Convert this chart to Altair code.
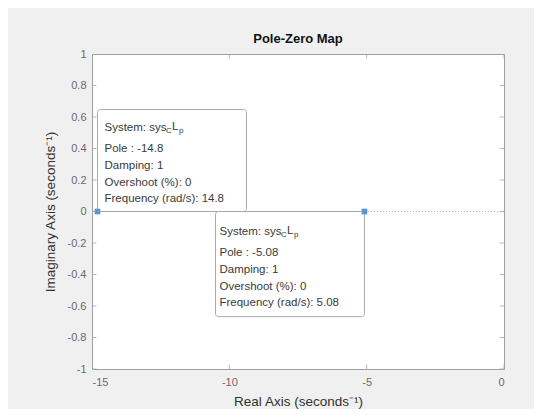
import altair as alt
import pandas as pd

# ---- data ----
pole_re = [-14.8, -5.08]
pole_im = [0.0, 0.0]
pole_label = ["-14.8", "-5.08"]
pole_damping = ["1", "1"]
pole_overshoot = ["0", "0"]
pole_freq = ["14.8", "5.08"]
x_ticks = [-15, -10, -5, 0]
y_ticks = [-1, -0.8, -0.6, -0.4, -0.2, 0, 0.2, 0.4, 0.6, 0.8, 1]

# ---- layout ----
W, H = 412, 315
X_DOM = [-15, 0]
Y_DOM = [-1, 1]
PX_X = W / (X_DOM[1] - X_DOM[0])
PX_Y = H / (Y_DOM[1] - Y_DOM[0])
BOX_W, BOX_H = 149, 102
FONT = "Liberation Sans"
TIP_FS = 11.5
TIP_COLOR = "#3a3a3a"

xs = alt.Scale(domain=X_DOM, nice=False, zero=False)
ys = alt.Scale(domain=Y_DOM, nice=False, zero=False)

xaxis = alt.Axis(values=x_ticks, ticks=False, domain=False, grid=False,
                 labelExpr="'' + datum.value", labelFontSize=11, labelColor="#6a6a6a",
                 labelPadding=7, labelFont=FONT,
                 title="Real Axis (seconds⁻¹)", titleFont=FONT, titleFontSize=13.5,
                 titleFontWeight="normal", titleColor="#303030", titlePadding=7)
yaxis = alt.Axis(values=y_ticks, ticks=False, domain=False, grid=False,
                 labelExpr="'' + datum.value", labelFontSize=11, labelColor="#6a6a6a",
                 labelPadding=6, labelFont=FONT,
                 title="Imaginary Axis (seconds⁻¹)", titleFont=FONT, titleFontSize=13.5,
                 titleFontWeight="normal", titleColor="#303030", titlePadding=10)


def X(f):
    return alt.X(f, type="quantitative", scale=xs, axis=xaxis)


def Y(f):
    return alt.Y(f, type="quantitative", scale=ys, axis=yaxis)


poles = pd.DataFrame({"re": pole_re, "im": pole_im})

# zero reference line
zero = alt.Chart(pd.DataFrame({"y": [0.0]})).mark_rule(
    color="#b8b8b8", strokeDash=[1, 2], strokeWidth=1
).encode(y=Y("y"))

# inward tick marks on all four sides
tick_rows = []
for v in x_ticks:
    tick_rows.append({"x": v, "y": Y_DOM[0]})
    tick_rows.append({"x": v, "y": Y_DOM[1]})
xt = alt.Chart(pd.DataFrame(tick_rows)).mark_tick(
    orient="vertical", size=9, thickness=1, color="#9a9a9a", clip=True
).encode(x=X("x"), y=Y("y"))
tick_rows = []
for v in y_ticks:
    tick_rows.append({"x": X_DOM[0], "y": v})
    tick_rows.append({"x": X_DOM[1], "y": v})
yt = alt.Chart(pd.DataFrame(tick_rows)).mark_tick(
    orient="horizontal", size=9, thickness=1, color="#9a9a9a", clip=True
).encode(x=X("x"), y=Y("y"))

# datatip boxes: first above-right of the pole, second below-left
bw = BOX_W / PX_X
bh = BOX_H / PX_Y
boxes = pd.DataFrame({
    "x1": [pole_re[0], pole_re[1] - bw],
    "x2": [pole_re[0] + bw, pole_re[1]],
    "y1": [pole_im[0], pole_im[1]],
    "y2": [pole_im[0] + bh, pole_im[1] - bh - 0.02],
})
box = alt.Chart(boxes).mark_rect(
    fill="white", stroke="#a9a9a9", strokeWidth=1, cornerRadius=3
).encode(x=X("x1"), x2="x2", y=Y("y1"), y2="y2")

markers = alt.Chart(poles).mark_square(
    size=32, color="#5b95d0", opacity=1
).encode(x=X("re"), y=Y("im"))

# datatip text
text_layers = []
tip_dx = [7, -BOX_W + 4]
tip_dy0 = [-84, 20]
line_dys = [0, 21, 38, 55, 71]
for i in range(2):
    d = pd.DataFrame({"re": [pole_re[i]], "im": [pole_im[i]]})
    lines = [
        "System: sys",
        "Pole : " + pole_label[i],
        "Damping: " + pole_damping[i],
        "Overshoot (%): " + pole_overshoot[i],
        "Frequency (rad/s): " + pole_freq[i],
    ]
    for k, s in enumerate(lines):
        text_layers.append(alt.Chart(d).mark_text(
            text=s, align="left", baseline="middle", font=FONT, fontSize=TIP_FS,
            color=TIP_COLOR, dx=tip_dx[i], dy=tip_dy0[i] + line_dys[k]
        ).encode(x=X("re"), y=Y("im")))
    # sys_C L_p with subscripts
    for s, off, fs, sdy in [("C", 61.5, 8, 3), ("L", 67.5, TIP_FS, -1), ("p", 74.5, 8, 3)]:
        text_layers.append(alt.Chart(d).mark_text(
            text=s, align="left", baseline="middle", font=FONT, fontSize=fs,
            color=TIP_COLOR, dx=tip_dx[i] + off, dy=tip_dy0[i] + sdy
        ).encode(x=X("re"), y=Y("im")))

chart = alt.layer(zero, xt, yt, box, markers, *text_layers).properties(
    width=W, height=H,
    title=alt.TitleParams("Pole-Zero Map", font=FONT, fontSize=13, fontWeight="bold",
                          color="#111111", offset=2, anchor="middle"),
    autosize=alt.AutoSizeParams(type="none"),
    padding={"left": 84, "top": 46, "right": 30, "bottom": 40},
).configure(background="#f0f0f0").configure_view(
    fill="white", stroke="#a0a0a0", strokeWidth=1
)

chart.save("out.html", embed_options={"renderer": "svg", "actions": False})
